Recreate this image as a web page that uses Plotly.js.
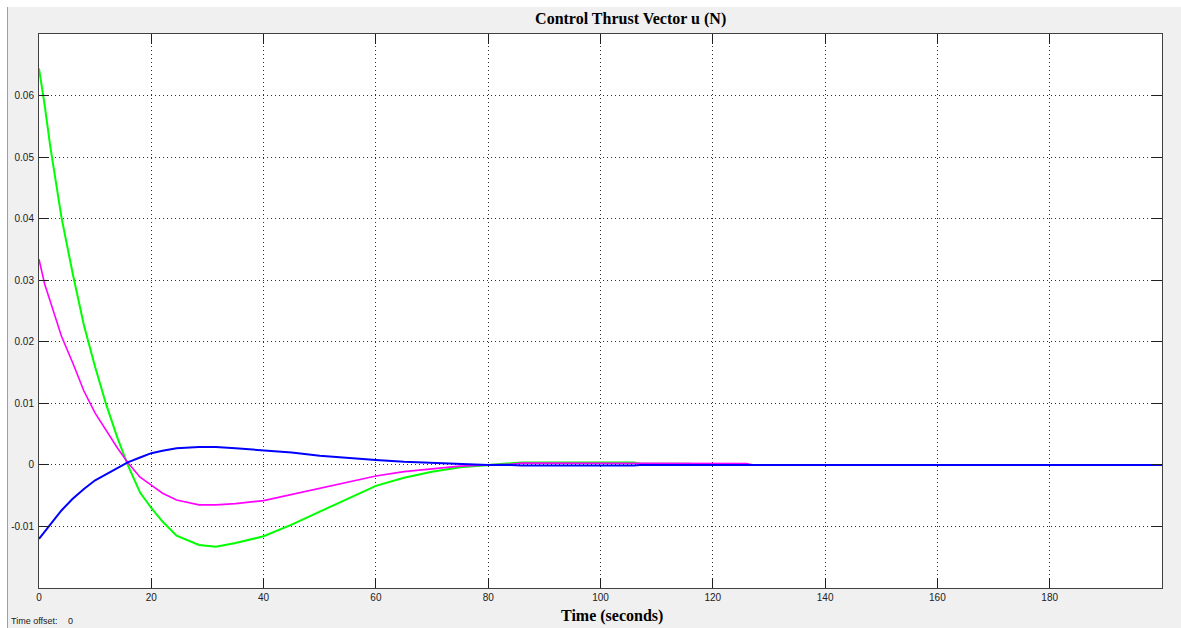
<!DOCTYPE html>
<html>
<head>
<meta charset="utf-8">
<script src="https://cdn.plot.ly/plotly-3.0.1.min.js"></script>
<style>
  html, body { margin: 0; padding: 0; background: #ffffff; }
  #frame { position: absolute; left: 7px; top: 7px; width: 1174px; height: 621px; background: #f0f0f0; border-left: 1px solid #a0a0a0; box-sizing: border-box; }
  #plot { position: absolute; left: 0; top: 0; width: 1181px; height: 628px; }
</style>
</head>
<body>
<div id="frame"></div>
<div id="plot"></div>
<script>
// Time samples (seconds)
const time = [0, 1, 2, 4, 6, 8, 10, 12, 14, 15.8, 18, 20, 22, 24.5, 28.5, 31.5, 35, 40, 45, 50, 55, 60, 65, 70, 75, 80, 84, 86, 106, 107, 116, 117, 126, 127, 200];

// Thrust components (N)
const uGreen = [0.0644, 0.0585, 0.0518, 0.0402, 0.0311, 0.0227, 0.0159, 0.0097, 0.0043, 0.0, -0.0045, -0.0070, -0.0092, -0.0115, -0.0130, -0.0133, -0.0127, -0.0116, -0.0097, -0.0076, -0.0054, -0.0034, -0.0021, -0.0011, -0.0004, 0.0, 0.0002, 0.0004, 0.0004, 0.0002, 0.0002, 0.0, 0.0, 0.0, 0.0];
const uMagenta = [0.0334, 0.0294, 0.0266, 0.0209, 0.0166, 0.0120, 0.0084, 0.0055, 0.0027, 0.0004, -0.0020, -0.0033, -0.0046, -0.0057, -0.0065, -0.0065, -0.0063, -0.0058, -0.0048, -0.0039, -0.0029, -0.0018, -0.0011, -0.0006, -0.0002, 0.0, 0.0001, 0.0003, 0.0003, 0.0002, 0.0002, 0.0002, 0.0002, 0.0, 0.0];
const uBlue = [-0.0120, -0.0108, -0.0096, -0.0074, -0.0055, -0.0039, -0.0025, -0.0015, -0.0005, 0.0004, 0.0012, 0.0019, 0.0023, 0.0027, 0.0029, 0.0029, 0.0027, 0.0024, 0.0020, 0.0015, 0.0011, 0.0008, 0.0005, 0.0003, 0.0001, 0.0, 0.0, -0.0001, -0.0001, 0.0, 0.0, 0.0, 0.0, 0.0, 0.0];

// Axis ticks
const xTickVals = [0, 20, 40, 60, 80, 100, 120, 140, 160, 180];
const xTickText = ["0", "20", "40", "60", "80", "100", "120", "140", "160", "180"];
const yTickVals = [-0.01, 0, 0.01, 0.02, 0.03, 0.04, 0.05, 0.06];
const yTickText = ["-0.01", "0", "0.01", "0.02", "0.03", "0.04", "0.05", "0.06"];

const titleText = "Control Thrust Vector u (N)";
const xTitleText = "Time (seconds)";

const traces = [
  { x: time, y: uGreen, mode: "lines", line: { color: "#00ff00", width: 2 }, showlegend: false, hoverinfo: "x+y" },
  { x: time, y: uMagenta, mode: "lines", line: { color: "#ff00ff", width: 1.6 }, showlegend: false, hoverinfo: "x+y" },
  { x: time, y: uBlue, mode: "lines", line: { color: "#0000ff", width: 2 }, showlegend: false, hoverinfo: "x+y" }
];

const axisCommon = {
  showline: true, linecolor: "#404040", linewidth: 1, mirror: "allticks",
  ticks: "inside", ticklen: 10, tickwidth: 1, tickcolor: "#202020",
  showgrid: true, gridcolor: "#303030", gridwidth: 1, griddash: "1px,3px",
  zeroline: false,
  tickfont: { family: "Liberation Sans, Arial, sans-serif", size: 10, color: "#202020" },
  tickmode: "array", fixedrange: true
};

const layout = {
  width: 1181, height: 628,
  margin: { l: 39, r: 19, t: 34, b: 40, pad: 0 },
  paper_bgcolor: "rgba(0,0,0,0)",
  plot_bgcolor: "#ffffff",
  title: {
    text: "<b>" + titleText + "</b>",
    font: { family: "Liberation Serif, Times New Roman, serif", size: 16, color: "#000000" },
    xref: "container", yref: "container", x: 0.534, y: 0.971, xanchor: "center", yanchor: "middle"
  },
  xaxis: Object.assign({}, axisCommon, { range: [0, 200], tickvals: xTickVals, ticktext: xTickText }),
  yaxis: Object.assign({}, axisCommon, { range: [-0.02, 0.07], tickvals: yTickVals, ticktext: yTickText, ticklabelstandoff: 2 }),
  annotations: [
    { text: "<b>" + xTitleText + "</b>", xref: "paper", yref: "paper", x: (611.7 - 39) / 1123, y: -(615.7 - 588) / 554,
      xanchor: "center", yanchor: "middle", showarrow: false,
      font: { family: "Liberation Serif, Times New Roman, serif", size: 16, color: "#000000" } },
    { text: "Time offset:", xref: "paper", yref: "paper", x: -(39 - 9) / 1123, y: -(620.7 - 588) / 554,
      xanchor: "left", yanchor: "middle", showarrow: false,
      font: { family: "Liberation Sans, Arial, sans-serif", size: 9, color: "#202020" } },
    { text: "0", xref: "paper", yref: "paper", x: -(39 - 66) / 1123, y: -(620.7 - 588) / 554,
      xanchor: "left", yanchor: "middle", showarrow: false,
      font: { family: "Liberation Sans, Arial, sans-serif", size: 9, color: "#202020" } }
  ]
};

Plotly.newPlot("plot", traces, layout, { displayModeBar: false, staticPlot: true });
</script>
</body>
</html>
